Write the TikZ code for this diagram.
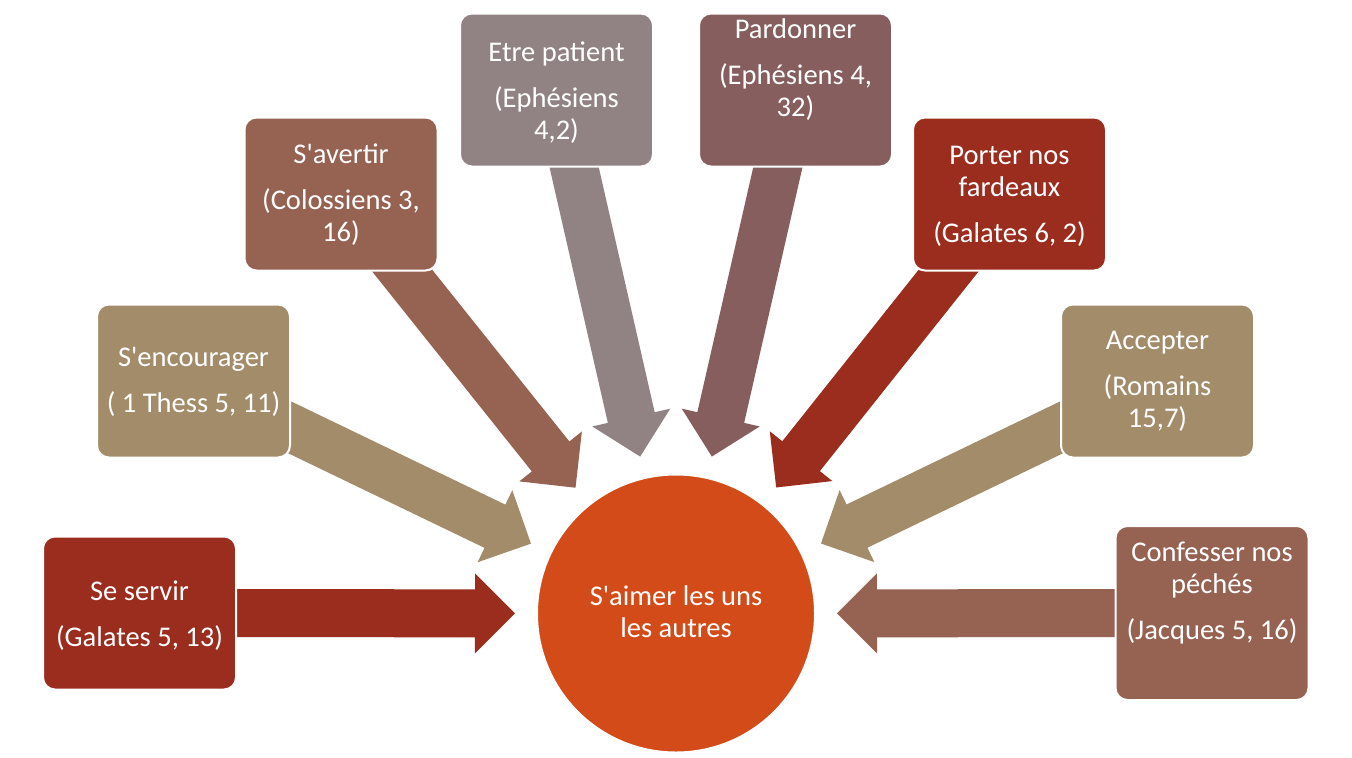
\documentclass[tikz,border=0pt]{standalone}
\usepackage{fontspec}
\newfontfamily\calfont{Carlito}
\usetikzlibrary{calc}
\definecolor{dred}{HTML}{9B2D1F}
\definecolor{tan}{HTML}{A38C6A}
\definecolor{rbrown}{HTML}{966252}
\definecolor{greym}{HTML}{918383}
\definecolor{mauve}{HTML}{865E5E}
\definecolor{orng}{HTML}{D24B18}
\newcommand\barrow[3]{%
  \fill[#3] let \p1=($(#2.center)-(#1.center)$), \n1={atan2(\y1,\x1)},
    \p2=($(#2.center)!120.75pt!(#1.center)$) in
    ($(#1.center)+(\n1+90:18pt)$)
    -- ($(\p2)+(\n1+180:30pt)+(\n1+90:18pt)$)
    -- ($(\p2)+(\n1+180:30pt)+(\n1+90:30pt)$)
    -- (\p2)
    -- ($(\p2)+(\n1+180:30pt)+(\n1-90:30pt)$)
    -- ($(\p2)+(\n1+180:30pt)+(\n1-90:18pt)$)
    -- ($(#1.center)+(\n1-90:18pt)$) -- cycle;}
\begin{document}
\begin{tikzpicture}[x=0.75pt,y=-0.75pt,
  box/.style={rounded corners=9pt, minimum width=144.75pt, minimum height=114.75pt,
    draw=white, line width=1.5pt, inner sep=0pt},
  txt/.style={text=white, font=\calfont\fontsize{21.4pt}{23.6pt}\selectfont,
    align=center, inner sep=0pt, anchor=base}]
\path[use as bounding box, fill=white] (0,0) rectangle (1352,757);
% box positions (drawn after arrows)
\path (139.5,613) node[box] (b1) {}
      (193.5,381) node[box] (b2) {}
      (341,194) node[box] (b3) {}
      (556.5,90) node[box] (b4) {}
      (795.5,90) node[box] (b5) {}
      (1009.5,194) node[box] (b6) {}
      (1157.5,381) node[box] (b7) {}
      (1212,613) node[box, minimum height=130.5pt] (b8) {}
      (676,613.5) node[circle, minimum size=208.5pt, inner sep=0pt] (c) {};
% arrows
\barrow{b1}{c}{dred}
\barrow{b2}{c}{tan}
\barrow{b3}{c}{rbrown}
\barrow{b4}{c}{greym}
\barrow{b5}{c}{mauve}
\barrow{b6}{c}{dred}
\barrow{b7}{c}{tan}
\barrow{b8}{c}{rbrown}
% visible boxes
\node[box, fill=dred] (B1) at (b1) {};
\node[box, fill=tan] (B2) at (b2) {};
\node[box, fill=rbrown] (B3) at (b3) {};
\node[box, fill=greym] (B4) at (b4) {};
\node[box, fill=mauve] (B5) at (b5) {};
\node[box, fill=dred] (B6) at (b6) {};
\node[box, fill=tan] (B7) at (b7) {};
\node[box, fill=rbrown, minimum height=130.5pt] (B8) at (b8) {};
\node[circle, fill=orng, minimum size=208.5pt, inner sep=0pt, draw=white, line width=1.5pt] (C) at (c) {};
% texts (anchor = baseline of last line)
\node[txt] (t1) at (139.5,646) {Se servir\\[10.9pt](Galates 5, 13)};
\node[txt] (t2) at (193.5,412) {S'encourager\\[10.9pt]( 1 Thess 5, 11)};
\node[txt] (t3) at (341,241) {S'avertir\\[10.9pt](Colossiens 3,\\16)};
\node[txt] (t4) at (556.5,139) {Etre patient\\[10.9pt](Ephésiens\\4,2)};
\node[txt] (t5) at (795.5,116) {Pardonner\\[10.9pt](Ephésiens 4,\\32)};
\node[txt] (t6) at (1009.5,242) {Porter nos\\fardeaux\\[10.9pt](Galates 6, 2)};
\node[txt] (t7) at (1157.5,427) {Accepter\\[10.9pt](Romains\\15,7)};
\node[txt] (t8) at (1212,639) {Confesser nos\\péchés\\[10.9pt](Jacques 5, 16)};
\node[txt] (tc) at (676,637) {S'aimer les uns\\les autres};
\end{tikzpicture}
\end{document}
